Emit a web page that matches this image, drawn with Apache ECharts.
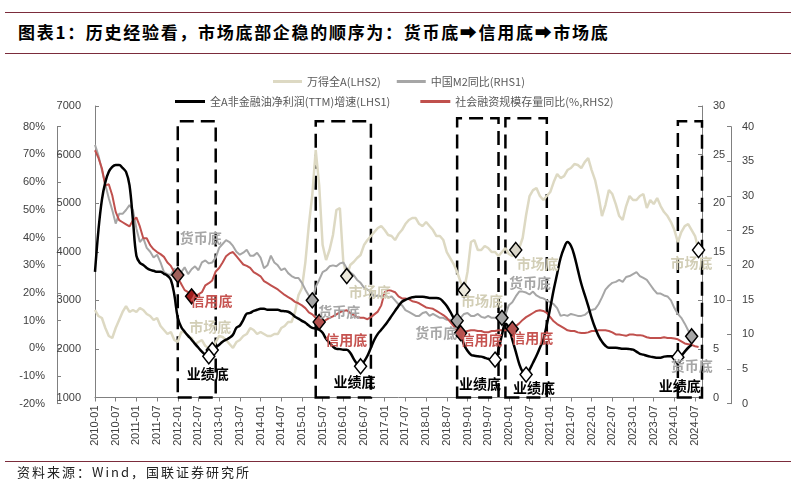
<!DOCTYPE html>
<html><head><meta charset="utf-8">
<script src="https://cdn.jsdelivr.net/npm/echarts/dist/echarts.min.js"></script>
<style>
html,body{margin:0;padding:0;background:#fff;}
#wrap{position:relative;width:803px;height:485px;overflow:hidden;background:#fff;}
#chart{position:absolute;left:0;top:0;width:803px;height:485px;}
.rule{position:absolute;left:5px;width:786px;height:0;border-top:1.5px solid #7b2c3b;}
#title{position:absolute;left:18px;top:21px;font-family:'Noto Sans CJK SC',sans-serif;font-weight:bold;font-size:17px;letter-spacing:1.7px;color:#000;white-space:nowrap;line-height:22px;}
#foot{position:absolute;left:17px;top:463px;font-family:'Noto Sans CJK SC',sans-serif;font-size:13px;letter-spacing:2px;color:#222;white-space:nowrap;line-height:18px;}
</style></head>
<body><div id="wrap">
<div class="rule" style="top:12px"></div>
<div id="title">图表1：历史经验看，市场底部企稳的顺序为：货币底➡信用底➡市场底</div>
<div class="rule" style="top:53px"></div>
<div id="chart"></div>
<div class="rule" style="top:461px"></div>
<div id="foot">资料来源：Wind，国联证券研究所</div>
</div>
<script>
// categories: monthly 2010-01 .. 2024-09
var cats = [];
for (var y = 2010; y <= 2024; y++) { for (var m = 1; m <= 12; m++) { if (y === 2024 && m > 9) break; cats.push(y + '-' + (m < 10 ? '0' + m : m)); } }

var leftPctTicks = [-20, 80, 10];   // LHS1 min,max,interval
var lhs2Ticks = [1000, 7000, 1000]; // LHS2
var rhs1Ticks = [0, 30, 5];         // RHS1
var rhs2Ticks = [0, 40, 5];         // RHS2

// 万得全A (LHS2)
var windA = [2801,2677,2636,2430,2266,2225,2430,2595,2760,2883,
 2760,2801,2760,2842,2801,2718,2677,2595,2636,2471,
 2389,2307,2348,2183,2142,2348,2348,2266,2225,2101,
 2142,2183,2060,2019,1977,2142,2266,2245,2183,2101,
 2019,2142,2183,2266,2307,2430,2389,2307,2348,2307,
 2266,2266,2307,2307,2430,2471,2554,2554,2760,3108,
 3254,3787,4550,5167,6094,5373,4138,3830,4036,4344,
 4859,4900,3789,3500,3727,3789,3871,3933,4138,4241,
 4324,4406,4488,4529,4447,4344,4324,4241,4365,4447,
 4571,4653,4694,4694,4571,4529,4612,4529,4447,4324,
 4324,4241,3994,3871,3747,3583,3377,3212,3583,4200,
 4241,4036,4036,4118,4077,3994,3994,3912,3994,4077,
 3953,3912,4036,4077,4283,4756,5147,5270,5311,5147,
 5064,5147,5229,5435,5600,5517,5558,5682,5723,5805,
 5785,5723,5846,5929,5682,5476,5147,4735,4961,5270,
 5188,4982,4735,4653,4941,5147,5064,5064,5147,5188,
 4900,5064,4982,5106,4941,4818,4735,4612,4447,4200,
 4406,4529,4571,4447,4324,4036,null];

// 中国M2同比 (RHS1)
var m2 = [26,24.9,23.4,21.9,20.5,19.3,17.9,18.9,18.9,19.3,
 19.8,19.3,17.4,16,16.4,15.4,15,14.4,14.7,13.9,
 12.9,12.7,12.6,13.3,12.6,12.9,13.4,12.7,13.2,13.5,
 13.1,13.9,14.1,13.8,13.9,14.4,15.4,15.8,16.2,16,
 15.6,15,14.7,14.9,15.2,14.6,14.6,14.9,14.4,13.3,
 13.6,14.6,13.9,13.6,13.1,13.3,12.8,12.5,12.3,12.3,
 11.8,11.1,10.5,10,11.4,12.1,12.9,13.1,13.5,13.6,
 13.5,13.8,13.9,13.3,12.9,12.6,12.1,11.8,11.3,11.1,
 10.9,10.4,10.5,10.4,10.6,10.3,10.4,10,9.6,9.5,
 9,8.8,8.6,8.4,8.4,8.7,8.8,8.4,8.6,8.4,
 8.2,8.2,8,8,8,7.9,8.2,8.6,8.7,8.4,
 8.4,8.6,8.3,8.2,8.4,8.2,8.2,8.4,8.2,8.5,
 9.5,9.8,10.4,10.9,10.9,10.8,10.6,10.9,10.5,10.3,
 10.2,10,9.8,9.6,9.2,8.4,8.5,8.4,8.6,8.5,
 8.4,8.4,8.5,8.8,9,9.1,9.6,10.3,11.1,11.5,
 11.8,11.9,12.1,11.9,12.4,12.5,12.7,12.9,12.5,12.3,
 12.1,11.6,11.1,10.7,10.7,10.5,10.4,10,9.2,8.6,
 8.2,7.6,6.9,6.3,6.1,null,null];

// 全A非金融油净利润(TTM)增速 (LHS1, %)
var profit = [27.6,42.7,53.6,60,63.7,65.5,66.2,66.2,65.1,63.7,
 58.9,46.3,33.4,30.9,30.1,29,28.3,28,27.6,27.6,
 26.9,26.2,24.7,19.3,11,7.7,6,4.5,3.1,1.6,
 0.2,-1.2,-2.3,-2.9,-1.6,0.2,1.3,2.4,3.1,3.8,
 4.9,7.4,8.2,10.3,12.5,12.8,13.5,13.9,14.3,14.3,
 13.9,13.9,13.9,13.9,13.5,13.4,13.2,12.5,11.4,10.7,
 9.9,9.2,8.2,7.4,7.1,6.7,5.6,3.4,2,0.6,
 -0.2,-0.3,-0.5,-0.5,-1.6,-3.8,-5.6,-6.5,-4.8,-2.7,
 0.2,3.1,5.2,6.7,8.2,9.9,11.7,13.5,15.3,16.8,
 17.5,18,18.4,18.6,18.6,18.6,18.4,18.2,18.2,18.2,
 17.9,16.8,15.3,13.2,11,8.9,5.2,1.3,-0.9,-2.3,
 -2.7,-2.9,-3,-3.4,-3.8,-4.1,-4.1,-0.5,4.9,8.9,
 7.4,3.1,-1.2,-5.6,-8.5,-9.5,-7.7,-5.2,-2.7,0.2,
 3.1,8.5,14.6,21.1,26.9,32.6,36.2,38.4,37,33.4,
 28.3,23.3,19.3,15.3,11,7.4,4.5,2.4,0.9,0.2,
 0.2,0.2,0,-0.2,-0.2,-0.3,-0.5,-1.2,-2,-2.3,
 -2.7,-3,-3.2,-3.4,-3.4,-3,-2.9,-2.9,-3,-3.2,
 -2.7,-1.2,0.2,1.3,null,null,null];

// 社会融资规模存量同比 (%, RHS2)
var tsf = [36.6,35.5,34,31.5,31.7,30.1,27.7,26.5,26.2,25.9,
 25.6,26.5,26.9,25.6,23.9,23.9,22.9,22.3,21.9,21.6,
 21.2,20.4,19.9,19,18.1,17.3,16.4,16.1,15.5,15.5,
 15.8,16.1,17.1,17.4,17.8,19.1,19.6,20.4,21.3,21.7,
 21.9,21.3,20.7,20.1,19.9,19.6,19,18.7,18.4,17.7,
 17.4,17.1,16.8,16.5,16.1,15.7,15.4,15.1,14.7,14.5,
 14.2,13.8,13.2,12.9,12.4,11.8,11.8,12.1,12.4,12.6,
 12.9,13.2,13.4,13.5,13.1,12.8,12.5,12.4,12.4,12.2,
 12.5,12.9,13.3,14.2,16.1,16.4,16.3,16.1,15.5,15.2,
 15.2,15.1,14.8,14.7,14.5,14.2,13.9,13.8,13.7,13.4,
 13.1,12.8,12.4,11.8,11.2,10.6,10.2,10.3,10.5,10.6,
 10.6,10.5,10.5,10.3,10.3,10.5,10.5,10.6,10.6,10.6,
 10.8,10.8,11.2,11.6,12.1,12.5,12.8,13.1,13.4,13.5,
 13.4,13.1,12.5,11.9,11.5,11.2,10.9,10.6,10.5,10.5,
 10.3,10.2,10.2,10.3,10.5,10.5,10.6,10.6,10.6,10.5,
 10.3,10,10,9.9,9.8,10,10,9.9,9.9,9.8,
 9.6,9.5,9.5,9.5,9.5,9.6,9.5,9.5,9.4,9.3,
 9,8.7,8.6,8.5,8.3,8.2,null];

// dashed boxes: [start index, end index, top on LHS2]
var boxes = [[24,35,6684],[64,80,6684],[105,117,6746],[119,131,6746],[169,176,6684]];

// bottoms (month index of each marker)
var moneyBottoms  = [24, 63, 105, 118, 173];   // 货币底 on M2
var creditBottoms = [28, 65, 106, 121];        // 信用底 on 社融
var marketBottoms = [34, 73, 107, 122, 175];   // 市场底 on 万得全A
var profitBottoms = [33, 77, 116, 125, 169];   // 业绩底 on 净利润

var moneyOff  = [[23,-37],[27,11],[-21,12],[28,-35],[0,29]];
var creditOff = [[20,4],[27,18],[21,7],[20,9]];
var marketOff = [[-2,-23],[23,16],[18,11],[22,14],[-7,13]];
var profitOff = [[-1,17],[-6,15],[-15,24],[8,13],[2,29]];

var FONT = "'Liberation Sans','Noto Sans CJK SC',sans-serif";
var CJK = "'Noto Sans CJK SC','Liberation Sans',sans-serif";

function marks(idxs, arr, fills, text, color, offs) {
  return idxs.map(function (ix, k) {
    return {
      coord: [cats[ix], arr[ix]],
      symbol: 'diamond', symbolSize: [12, 15],
      itemStyle: { color: Array.isArray(fills) ? fills[k] : fills, borderColor: '#000', borderWidth: 1.5 },
      label: { show: true, position: 'inside', formatter: text, color: color, offset: offs[k],
               fontSize: 14, fontWeight: 'bold', fontFamily: CJK }
    };
  });
}

var axisGray = '#808080';
var labelStyle = { color: '#404040', fontSize: 11, fontFamily: FONT };
var plain = function (v) { return String(v); };

var chart = echarts.init(document.getElementById('chart'), null, { renderer: 'canvas' });
chart.setOption({
  animation: false,
  textStyle: { fontFamily: FONT },
  grid: [
    { left: 95, right: 101, top: 106, bottom: 87.5 },
    { left: 95, right: 101, top: 126.7, bottom: 81.3 }
  ],
  legend: [
    { data: ['万得全A(LHS2)', '中国M2同比(RHS1)'], left: 268, top: 71, icon: 'rect',
      itemWidth: 29, itemHeight: 3, itemGap: 16, textStyle: { color: '#595959', fontSize: 11, fontFamily: CJK } },
    { data: ['全A非金融油净利润(TTM)增速(LHS1)', '社会融资规模存量同比(%,RHS2)'], left: 170, top: 91, icon: 'rect',
      itemWidth: 30, itemHeight: 3, itemGap: 30, textStyle: { color: '#595959', fontSize: 11, fontFamily: CJK } }
  ],
  xAxis: [
    { type: 'category', gridIndex: 0, data: cats, boundaryGap: false,
      axisLine: { lineStyle: { color: axisGray, width: 1 } },
      axisTick: { interval: 5, length: 4, lineStyle: { color: axisGray } },
      axisLabel: Object.assign({ interval: 5, rotate: 90, margin: 8 }, labelStyle),
      splitLine: { show: false } },
    { type: 'category', gridIndex: 1, data: cats, boundaryGap: false, show: false }
  ],
  yAxis: [
    { type: 'value', gridIndex: 0, position: 'left', min: lhs2Ticks[0], max: lhs2Ticks[1], interval: lhs2Ticks[2],
      axisLine: { show: true, lineStyle: { color: axisGray } },
      axisTick: { show: true, inside: true, length: 4, lineStyle: { color: axisGray } },
      axisLabel: Object.assign({ margin: 14, formatter: plain }, labelStyle), splitLine: { show: false } },
    { type: 'value', gridIndex: 0, position: 'right', min: rhs1Ticks[0], max: rhs1Ticks[1], interval: rhs1Ticks[2],
      axisLine: { show: true, lineStyle: { color: axisGray } },
      axisTick: { show: true, inside: true, length: 4, lineStyle: { color: axisGray } },
      axisLabel: Object.assign({ margin: 11, formatter: plain }, labelStyle), splitLine: { show: false } },
    { type: 'value', gridIndex: 1, position: 'left', offset: 38, min: leftPctTicks[0], max: leftPctTicks[1], interval: leftPctTicks[2],
      axisLine: { show: true, lineStyle: { color: axisGray } },
      axisTick: { show: true, inside: true, length: 4, lineStyle: { color: axisGray } },
      axisLabel: Object.assign({ margin: 12, formatter: '{value}%' }, labelStyle), splitLine: { show: false } },
    { type: 'value', gridIndex: 1, position: 'right', offset: 29, min: rhs2Ticks[0], max: rhs2Ticks[1], interval: rhs2Ticks[2],
      axisLine: { show: true, lineStyle: { color: axisGray } },
      axisTick: { show: true, inside: true, length: 4, lineStyle: { color: axisGray } },
      axisLabel: Object.assign({ margin: 11, formatter: plain }, labelStyle), splitLine: { show: false } }
  ],
  series: [
    { name: '万得全A(LHS2)', type: 'line', xAxisIndex: 0, yAxisIndex: 0, data: windA,
      showSymbol: false, symbol: 'none', color: '#ddd9c3', lineStyle: { width: 2.5, color: '#ddd9c3' }, z: 2,
      markArea: { silent: true, itemStyle: { color: 'rgba(0,0,0,0)', borderColor: '#000', borderWidth: 2.5, borderType: [14, 7] },
        data: boxes.map(function (b) { return [{ xAxis: cats[b[0]], yAxis: lhs2Ticks[0] }, { xAxis: cats[b[1]], yAxis: b[2] }]; }) },
      markPoint: { z: 10, data: marks(marketBottoms, windA, ['#ffffff', '#ece9dc', '#ece9dc', '#d9d5c8', '#ffffff'], '市场底', '#d2ceb6', marketOff) } },
    { name: '中国M2同比(RHS1)', type: 'line', xAxisIndex: 0, yAxisIndex: 1, data: m2,
      showSymbol: false, symbol: 'none', color: '#a6a6a6', lineStyle: { width: 2, color: '#a6a6a6' }, z: 3,
      markPoint: { z: 10, data: marks(moneyBottoms, m2, ['#a0605a', '#a6a6a6', '#a6a6a6', '#a6a6a6', '#a6a6a6'], '货币底', '#a6a6a6', moneyOff) } },
    { name: '社会融资规模存量同比(%,RHS2)', type: 'line', xAxisIndex: 1, yAxisIndex: 3, data: tsf,
      showSymbol: false, symbol: 'none', color: '#c0504d', lineStyle: { width: 2, color: '#c0504d' }, z: 4,
      markPoint: { z: 10, data: marks(creditBottoms, tsf, ['#a11d1d', '#b5514f', '#b5514f', '#b5514f'], '信用底', '#c65350', creditOff) } },
    { name: '全A非金融油净利润(TTM)增速(LHS1)', type: 'line', xAxisIndex: 1, yAxisIndex: 2, data: profit,
      showSymbol: false, symbol: 'none', smooth: 0.4, color: '#000', lineStyle: { width: 2.5, color: '#000' }, z: 5,
      markPoint: { z: 10, data: marks(profitBottoms, profit, '#ffffff', '业绩底', '#000', profitOff) } }
  ]
});
</script>
</body></html>
